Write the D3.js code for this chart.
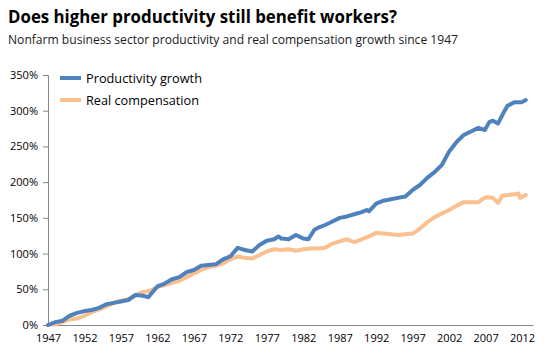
<!DOCTYPE html>
<html>
<head>
<meta charset="utf-8">
<script src="https://cdn.jsdelivr.net/npm/d3@7"></script>
<style>
  body { margin: 0; background: #fff; }
  svg { display: block; }
  text { font-family: "Open Sans", "Liberation Sans", sans-serif; }
</style>
</head>
<body>
<svg id="chart" width="550" height="364"></svg>
<script>
const titleText = "Does higher productivity still benefit workers?";
const subtitleText = "Nonfarm business sector productivity and real compensation growth since 1947";
const seriesNames = ["Productivity growth", "Real compensation"];
const seriesColors = ["#4F81BD", "#FAC090"];
const yTicks = [0, 50, 100, 150, 200, 250, 300, 350];
const xTickYears = [1947, 1952, 1957, 1962, 1967, 1972, 1977, 1982, 1987, 1992, 1997, 2002, 2007, 2012];

const prodYears = [1947, 1948, 1949, 1950, 1951, 1952, 1953, 1954, 1955, 1956, 1957, 1958, 1959, 1960, 1960.75, 1961.5,
  1962, 1963, 1964, 1965, 1966, 1967, 1968, 1969, 1970, 1971, 1972, 1973, 1974, 1975, 1976, 1977, 1978, 1978.6,
  1979, 1980, 1981, 1982, 1982.7, 1983.5, 1984, 1985, 1986, 1987, 1988, 1989, 1990, 1990.7, 1991, 1992, 1993,
  1994, 1995, 1996, 1997, 1998, 1999, 2000, 2001, 2002, 2003, 2004, 2005, 2006, 2006.9, 2007.5, 2008, 2008.7,
  2009.5, 2010, 2011, 2012, 2012.5];
const prodValues = [0, 4, 6, 13, 17, 19.5, 21, 24, 29, 31, 33, 35, 42, 41, 39, 48,
  54, 58, 64, 67, 74, 77, 83, 84, 85, 92, 96, 108, 105, 103, 112, 118, 120, 124,
  121, 120, 126, 121, 120, 133, 136, 140, 145, 150, 152, 155, 158, 161, 159, 170, 174,
  176, 178, 180, 189, 196, 206, 214, 224, 243, 256, 266, 271, 276, 273, 284, 286, 282,
  298, 307, 312, 312, 315];

const compYears = [1947, 1948, 1949, 1950, 1951, 1952, 1953, 1954, 1955, 1956, 1957, 1958, 1959, 1960, 1961, 1962,
  1963, 1964, 1965, 1966, 1967, 1968, 1969, 1970, 1971, 1972, 1973, 1974, 1975, 1976, 1977, 1978, 1979, 1980,
  1981, 1982, 1983, 1984, 1985, 1986, 1987, 1988, 1989, 1990, 1991, 1992, 1993, 1994, 1995, 1996, 1997, 1998,
  1999, 2000, 2001, 2002, 2003, 2004, 2005, 2006, 2007, 2008, 2008.7, 2009.3, 2010, 2011, 2011.5, 2011.7, 2012.5];
const compValues = [0, 1, 4, 8, 9, 13, 18, 22, 26, 31, 34, 36, 42, 46, 48, 53,
  56, 59, 62, 67, 72, 77, 81, 83, 86, 92, 96, 94, 93, 98, 103, 106, 105, 106,
  104, 106, 107, 107, 108, 114, 117, 120, 116, 120, 124, 129, 128, 127, 126, 127, 128, 135,
  144, 151, 156, 161, 167, 172, 172, 172, 179, 178, 171, 181, 182, 183, 184, 178, 182];

const svg = d3.select("#chart");
const axisColor = "#868686";
const textColor = "#000";

const x = d3.scaleLinear().domain([1947, 2013.5]).range([48, 533]);
const y = d3.scaleLinear().domain([0, 350]).range([325, 75]);

// Title and subtitle
svg.append("text").attr("x", 8).attr("y", 23)
  .attr("font-size", 17).attr("font-weight", "bold").attr("fill", "#000")
  .attr("textLength", 389).attr("lengthAdjust", "spacingAndGlyphs")
  .text(titleText);
svg.append("text").attr("x", 8).attr("y", 44)
  .attr("font-size", 12.5).attr("fill", "#1a1a1a")
  .attr("textLength", 450).attr("lengthAdjust", "spacingAndGlyphs")
  .text(subtitleText);

// Y axis
const yAxis = d3.axisLeft(y).tickValues(yTicks).tickSize(5).tickFormat(d => d + "%");
const gy = svg.append("g").attr("transform", "translate(48,0)").call(yAxis);
gy.select(".domain").attr("stroke", axisColor);
gy.selectAll(".tick line").attr("stroke", axisColor);
gy.selectAll(".tick text").attr("font-size", 11).attr("fill", textColor).attr("x", -10)
  .attr("font-family", "Open Sans, sans-serif");

// X axis
const xAxis = d3.axisBottom(x).tickValues(xTickYears).tickSize(0).tickFormat(d3.format("d")).tickPadding(9);
const gx = svg.append("g").attr("transform", "translate(0,325)").call(xAxis);
gx.select(".domain").attr("stroke", axisColor);
gx.selectAll(".tick text").attr("font-size", 11).attr("fill", textColor)
  .attr("font-family", "Open Sans, sans-serif");

// Lines
const line = d3.line().x(d => x(d[0])).y(d => y(d[1]));
const series = [
  d3.zip(compYears, compValues),
  d3.zip(prodYears, prodValues)
];
svg.append("path").datum(series[0]).attr("d", line)
  .attr("fill", "none").attr("stroke", seriesColors[1]).attr("stroke-width", 4)
  .attr("stroke-linejoin", "round").attr("stroke-linecap", "round");
svg.append("path").datum(series[1]).attr("d", line)
  .attr("fill", "none").attr("stroke", seriesColors[0]).attr("stroke-width", 4)
  .attr("stroke-linejoin", "round").attr("stroke-linecap", "round");

// Legend
const legendY = [78, 100];
const legendWidths = [116, 113];
seriesNames.forEach((name, i) => {
  svg.append("line").attr("x1", 60).attr("x2", 81).attr("y1", legendY[i]).attr("y2", legendY[i])
    .attr("stroke", seriesColors[i]).attr("stroke-width", 4);
  svg.append("text").attr("x", 86).attr("y", legendY[i] + 4.5)
    .attr("font-size", 12.5).attr("fill", "#000")
    .attr("textLength", legendWidths[i]).attr("lengthAdjust", "spacingAndGlyphs")
    .text(name);
});
</script>
</body>
</html>
